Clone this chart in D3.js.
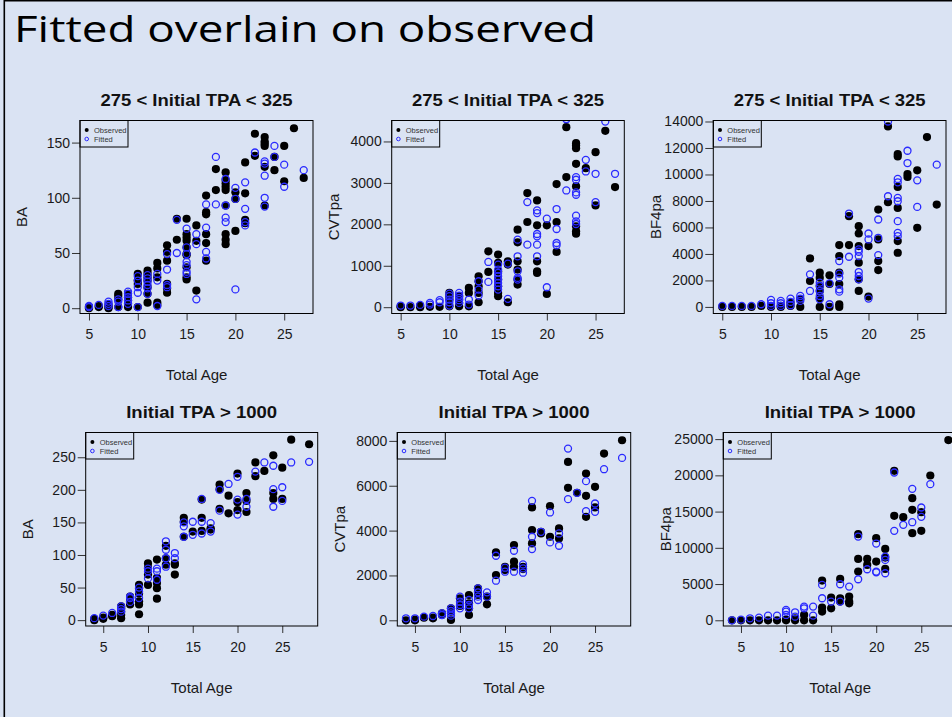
<!DOCTYPE html>
<html>
<head>
<meta charset="utf-8">
<script src="https://cdnjs.cloudflare.com/ajax/libs/d3/7.8.5/d3.min.js"></script>
<style>
body{margin:0;background:#dae3f3;}
svg{display:block;}
</style>
</head>
<body>
<script>
//values, grouped by age: [age, [values]]
var baTopObs = [[5,[0,1,1]],[6,[1,2]],[7,[0,1,3]],[8,[13,11,8,1]],[9,[13,10,7,4,1]],[10,[31,25,22,1]],
    [11,[34,31,28,25,19,13,5]],[12,[41,36,28,5,3]],[13,[57,51,43,22,18,14]],[14,[81,62]],
    [15,[81,67,64,61,55,49,48,37,28,26]],[16,[75,61,16]],[17,[102,87,85,67,59,43]],[18,[126,107]],
    [19,[123,116,113,110,107,93,67,62,58]],[20,[105,99,70]],[21,[132,104,80,77]],[22,[158,138]],
    [23,[155,151,149,147,128,93]],[24,[137,125]],[25,[147,115]],[26,[163]],[27,[118]]];
var baTopFit = [[5,[1,2]],[6,[3]],[7,[6,4,2]],[8,[8,6,1]],[9,[15,13,10,7,4]],[10,[29,25,19,14,1]],
    [11,[30,27,24,21,18,13]],[12,[31,25,2]],[13,[49,35,21,19]],[14,[80,50]],[15,[72,55,49,42,39,33,31]],
    [16,[67,58,8]],[17,[94,73,51,45]],[18,[137,94]],[19,[117,93,82,78]],[20,[109,99,17]],
    [21,[114,90,78,75]],[22,[141]],[23,[133,131,120,100,92]],[24,[147,137]],[25,[130,110]],[27,[125]]];

var cvtTopObs = [[5,[20,0]],[6,[0]],[7,[0,30]],[8,[10]],[9,[10]],[10,[345,265,185,20]],[11,[265,185,100,20]],
    [12,[465,345,20]],[13,[747,626,506,345,120]],[14,[1349,851]],[15,[1269,1068,867,666,506,345,265]],
    [16,[1108,1028,120]],[17,[1871,1566,1108,907,666,546]],[18,[2754,2056]],[19,[2578,1975,1108,867,827]],
    [20,[1975,321]],[21,[2971,2056,1333]],[22,[4344,3140]],[23,[3959,3903,3838,3461,2915,1951,1831,1775]],
    [24,[3356]],[25,[3742,2457]],[26,[4256]],[27,[2899]]];
var cvtTopFit = [[5,[40]],[6,[40]],[7,[56]],[8,[104,64]],[9,[169,120]],[10,[329,265,185,120,40]],
    [11,[345,281,225,169,104]],[12,[185,64]],[13,[626,425,281]],[14,[1092,610]],
    [15,[1028,907,827,747,666,586,506,425]],[16,[1052,201]],[17,[1630,1229,867,707,666]],[18,[2537,1510]],
    [19,[2337,2272,1767,1710,1510,1229]],[20,[2136,482]],[21,[2369,1887,1550,1494]],[22,[4537,2818]],
    [23,[3140,3076,2770,2714,2208,2072,2008]],[24,[3557,3276]],[25,[3220,2537]],[26,[4481]],[27,[3220]]];

var bfTopObs = [[5,[0]],[6,[0]],[7,[0]],[8,[0]],[9,[75]],[10,[0]],[11,[75,0]],[12,[75,326]],[13,[0,577]],
    [14,[3663,1957]],[15,[2584,2208,1581,1204,652,0]],[16,[2384,1731,0]],[17,[4667,3839,2584,1731,201,0]],
    [18,[6850,4667]],[19,[6097,5545,4592,3337,2082,1204]],[20,[4592,778]],[21,[7351,5093,3462,2785]],
    [22,[13624,7903]],[23,[11541,11366,9058,7477,4968,4090]],[24,[10036,9810]],[25,[10312,5971]],
    [26,[12821]],[27,[7728]]];
var bfTopFit = [[5,[75]],[6,[75]],[7,[75]],[8,[75]],[9,[200]],[10,[527,276,75]],[11,[452,276,75]],
    [12,[627,376,125]],[13,[828,627,452]],[14,[2459,1204]],[15,[1832,1581,1204,828,577]],[16,[1781,201]],
    [17,[3462,2509,2208,1330,1154]],[18,[7050,3789]],[19,[4341,4165,3839,2634,2333,2082]],
    [20,[5545,5093,627]],[21,[6599,5219,3914]],[22,[14000,8355]],[23,[9660,9409,8230,7979,6473,5595,5344]],
    [24,[11792,10864]],[25,[9559,7552]],[27,[10739]]];

var baBotObs = [[4,[0,2]],[5,[2,4]],[6,[6,8]],[7,[3,8,13,18,21]],[8,[24,29,34,36]],[9,[9,24,29,41,49,54]],
    [10,[54,70,80,87]],[11,[33,49,57,65,93]],[12,[85,95,114]],[13,[70,85,87]],[14,[128,151,157]],
    [15,[136]],[16,[137,157,185]],[17,[139,141]],[18,[171,201,208]],[19,[164,191]],[20,[169,181,225]],
    [21,[166,183,195]],[22,[221,242]],[23,[229]],[24,[186,195,253]],[25,[186,234]],[26,[277]],[28,[270]]];
var baBotFit = [[4,[3]],[5,[7]],[6,[11]],[7,[13,17,21]],[8,[28,34,36]],[9,[34,44,50]],[10,[64,75,79]],
    [11,[62,75,79]],[12,[82,95,108,121]],[13,[95,103]],[14,[128,144,150]],[15,[131,151]],
    [16,[133,151,186]],[17,[136,149]],[18,[168,200]],[19,[209]],[20,[162,185,220]],[21,[174,186]],
    [22,[228]],[23,[242]],[24,[174,201,237]],[25,[183,204]],[26,[242]],[28,[243]]];

var cvtBotObs = [[4,[0]],[5,[0,30]],[6,[119]],[7,[119,90]],[8,[237,312]],[9,[15,386,534]],[10,[979,640]],
    [11,[237,534,757,1128]],[12,[1128,1276,1425]],[13,[712,1054]],[14,[2018,3027]],[15,[2241,2315,2389]],
    [16,[2389,2612,3354]],[17,[2285,2389]],[18,[3428,4022,5031]],[19,[3873,3947]],[20,[3725,5090]],
    [21,[3651,4096]],[22,[5906,7064]],[23,[5684]],[24,[4615,5550,6544]],[25,[5031,5951]],[26,[7435]],
    [28,[8028]]];
var cvtBotFit = [[4,[89]],[5,[89]],[6,[163]],[7,[193]],[8,[237,312]],[9,[208,312,415,534]],
    [10,[534,683,831,1054]],[11,[534,683,905]],[12,[905,1054,1246,1425]],[13,[1054,1246]],[14,[1766,2879]],
    [15,[2167,2345]],[16,[2167,3101]],[17,[2122,2315,2493]],[18,[3176,3725,5328]],[19,[3947]],
    [20,[3473,4808]],[21,[3324,3873]],[22,[5402,7657]],[23,[5684]],[24,[4868,6203]],[25,[4838,5209]],
    [26,[6737]],[28,[7242]]];

var bfBotObs = [[4,[0]],[5,[0]],[6,[0]],[7,[0]],[8,[0]],[9,[0]],[10,[0,100]],[11,[0,276]],[12,[0,737]],
    [13,[0]],[14,[1197,1750,5479]],[15,[1657,3131]],[16,[2578,3039,5709]],[17,[2348,2578,3269]],
    [18,[6722,8471,11878]],[19,[7643,8471]],[20,[8103,11326]],[21,[7090,8656,9853]],[22,[14411,20626]],
    [23,[14227]],[24,[12016,15239,16851]],[25,[12339,14917]],[26,[19982]],[28,[24862]]];
var bfBotFit = [[4,[0]],[5,[92]],[6,[276]],[7,[368]],[8,[645]],[9,[645]],[10,[737,1197,1427]],
    [11,[506,1105]],[12,[1657,1888]],[13,[645,1888]],[14,[3039,4880]],[15,[2578]],[16,[2578,4972]],
    [17,[4650]],[18,[5663,11556]],[19,[7044]],[20,[6630,6722,10589]],[21,[6492,8333,8794]],
    [22,[12339,20396]],[23,[13168]],[24,[13536,18140]],[25,[14273,15562]],[26,[18784]]];

//tick labels
var ageTicks = [5, 10, 15, 20, 25];
var baTopTicks = [0, 50, 100, 150];
var cvtTopTicks = [0, 1000, 2000, 3000, 4000];
var bfTopTicks = [0, 2000, 4000, 6000, 8000, 10000, 12000, 14000];
var baBotTicks = [0, 50, 100, 150, 200, 250];
var cvtBotTicks = [0, 2000, 4000, 6000, 8000];
var bfBotTicks = [0, 5000, 10000, 15000, 20000, 25000];

//axis limits (R style, 4% past the data)
var topAgeLim = [4.08, 27.95], botAgeLim = [3.04, 28.96];
var yLims = [[-4.8, 170], [-152, 4506], [-497, 14075], [-9, 288], [-254, 8374], [-787, 25912]];

var slideTitle = "Fitted overlain on observed";
var topTitle = "275 < Initial TPA < 325", botTitle = "Initial TPA > 1000";
var yNames = ["BA", "CVTpa", "BF4pa", "BA", "CVTpa", "BF4pa"];
var legendNames = ["Observed", "Fitted"];

//panel boxes on the slide (tw = stretched title width)
var boxes = [
    {x0: 80, x1: 313, y0: 120.5, y1: 313.5, tw: 192},
    {x0: 391.7, x1: 624.3, y0: 120.5, y1: 313.5, tw: 192},
    {x0: 713.3, x1: 946, y0: 120.5, y1: 313.5, tw: 192},
    {x0: 85.7, x1: 317.7, y0: 432.5, y1: 626, tw: 151},
    {x0: 397.3, x1: 630.7, y0: 432.5, y1: 626, tw: 151},
    {x0: 723.3, x1: 957, y0: 432.5, y1: 626, tw: 151}
];

var panels = [
    {obs: baTopObs, fit: baTopFit, ticks: baTopTicks, title: topTitle, ageLim: topAgeLim},
    {obs: cvtTopObs, fit: cvtTopFit, ticks: cvtTopTicks, title: topTitle, ageLim: topAgeLim},
    {obs: bfTopObs, fit: bfTopFit, ticks: bfTopTicks, title: topTitle, ageLim: topAgeLim},
    {obs: baBotObs, fit: baBotFit, ticks: baBotTicks, title: botTitle, ageLim: botAgeLim},
    {obs: cvtBotObs, fit: cvtBotFit, ticks: cvtBotTicks, title: botTitle, ageLim: botAgeLim},
    {obs: bfBotObs, fit: bfBotFit, ticks: bfBotTicks, title: botTitle, ageLim: botAgeLim}
];

//turn [age, [values]] groups into flat points
function flat(groups){
    var out = [];
    groups.forEach(function(g){
        g[1].forEach(function(v){ out.push({age: g[0], v: v}); });
    });
    return out;
}

var w = 952, h = 717;
var blue = "#2a2aff";
var font = "'Liberation Sans', Arial, sans-serif";

var svg = d3.select("body").append("svg")
    .attr("width", w)
    .attr("height", h);

svg.append("rect").attr("width", w).attr("height", h).style("fill", "#dae3f3");

//slide frame (left and top edges show)
svg.append("path")
    .attr("d", "M4.3," + h + "V0.8H" + w)
    .style("fill", "none").style("stroke", "#000").style("stroke-width", 1.6);

svg.append("text")
    .attr("x", 14).attr("y", 42)
    .attr("textLength", 582).attr("lengthAdjust", "spacingAndGlyphs")
    .style("font-family", "'Open Sans', 'Noto Sans', sans-serif")
    .style("font-weight", 400)
    .style("font-size", "37px")
    .style("fill", "#000")
    .text(slideTitle);

panels.forEach(function(p, i){
    var b = boxes[i];
    var g = svg.append("g").attr("class", "panel");

    var x = d3.scaleLinear().domain(p.ageLim).range([b.x0, b.x1]);
    var y = d3.scaleLinear().domain(yLims[i]).range([b.y1, b.y0]);

    //clip marks to the plot region like R does
    svg.append("clipPath").attr("id", "clip" + i)
        .append("rect")
        .attr("x", b.x0).attr("y", b.y0)
        .attr("width", b.x1 - b.x0).attr("height", b.y1 - b.y0);

    var marks = g.append("g").attr("clip-path", "url(#clip" + i + ")");

    marks.selectAll(".obs")
        .data(flat(p.obs))
        .enter()
        .append("circle")
        .attr("class", "obs")
        .attr("cx", function(d){ return x(d.age); })
        .attr("cy", function(d){ return y(d.v); })
        .attr("r", 4.1)
        .style("fill", "#000");

    marks.selectAll(".fit")
        .data(flat(p.fit))
        .enter()
        .append("circle")
        .attr("class", "fit")
        .attr("cx", function(d){ return x(d.age); })
        .attr("cy", function(d){ return y(d.v); })
        .attr("r", 3.5)
        .style("fill", "none")
        .style("stroke", blue)
        .style("stroke-width", 1.3);

    //x axis
    var xAxis = g.append("g")
        .attr("transform", "translate(0," + b.y1 + ")")
        .call(d3.axisBottom(x).tickValues(ageTicks).tickSize(7).tickSizeOuter(0).tickPadding(9)
            .tickFormat(d3.format("d")));

    //y axis
    var yAxis = g.append("g")
        .attr("transform", "translate(" + b.x0 + ",0)")
        .call(d3.axisLeft(y).tickValues(p.ticks).tickSize(8).tickSizeOuter(0).tickPadding(2)
            .tickFormat(d3.format("d")));

    [xAxis, yAxis].forEach(function(a){
        a.select(".domain").remove();
        a.selectAll("line").style("stroke", "#333");
        a.selectAll("text")
            .style("font-family", font)
            .style("font-size", "14px")
            .style("fill", "#1a1a1a");
    });

    //plot box
    g.append("rect")
        .attr("x", b.x0).attr("y", b.y0)
        .attr("width", b.x1 - b.x0).attr("height", b.y1 - b.y0)
        .style("fill", "none").style("stroke", "#000").style("stroke-width", 1);

    //legend
    var leg = g.append("g").attr("transform", "translate(" + b.x0 + "," + b.y0 + ")");
    leg.append("rect")
        .attr("width", 48).attr("height", 26.5)
        .style("fill", "none").style("stroke", "#000").style("stroke-width", 1);
    leg.append("circle").attr("cx", 6.7).attr("cy", 9.5).attr("r", 2).style("fill", "#000");
    leg.append("circle").attr("cx", 6.7).attr("cy", 18.5).attr("r", 1.8)
        .style("fill", "none").style("stroke", blue).style("stroke-width", 1);
    leg.selectAll(".legText")
        .data(legendNames)
        .enter()
        .append("text")
        .attr("class", "legText")
        .attr("x", 14)
        .attr("y", function(d, k){ return 12.5 + k * 9; })
        .style("font-family", font)
        .style("font-size", "7.5px")
        .style("fill", "#333")
        .text(function(d){ return d; });

    //titles
    var cx = (b.x0 + b.x1) / 2;
    g.append("text")
        .attr("x", cx - b.tw / 2).attr("y", b.y0 - 15)
        .attr("textLength", b.tw).attr("lengthAdjust", "spacingAndGlyphs")
        .style("font-family", font)
        .style("font-weight", "bold")
        .style("font-size", "17px")
        .style("fill", "#111")
        .text(p.title);

    g.append("text")
        .attr("x", cx).attr("y", b.y1 + 66.5)
        .attr("text-anchor", "middle")
        .style("font-family", font)
        .style("font-size", "15px")
        .style("fill", "#1a1a1a")
        .text("Total Age");

    g.append("text")
        .attr("transform", "translate(" + (b.x0 - 58) + "," + ((b.y0 + b.y1) / 2) + ") rotate(-90)")
        .attr("text-anchor", "middle")
        .attr("dy", "0.35em")
        .style("font-family", font)
        .style("font-size", "15px")
        .style("fill", "#1a1a1a")
        .text(yNames[i]);
});
</script>
</body>
</html>
